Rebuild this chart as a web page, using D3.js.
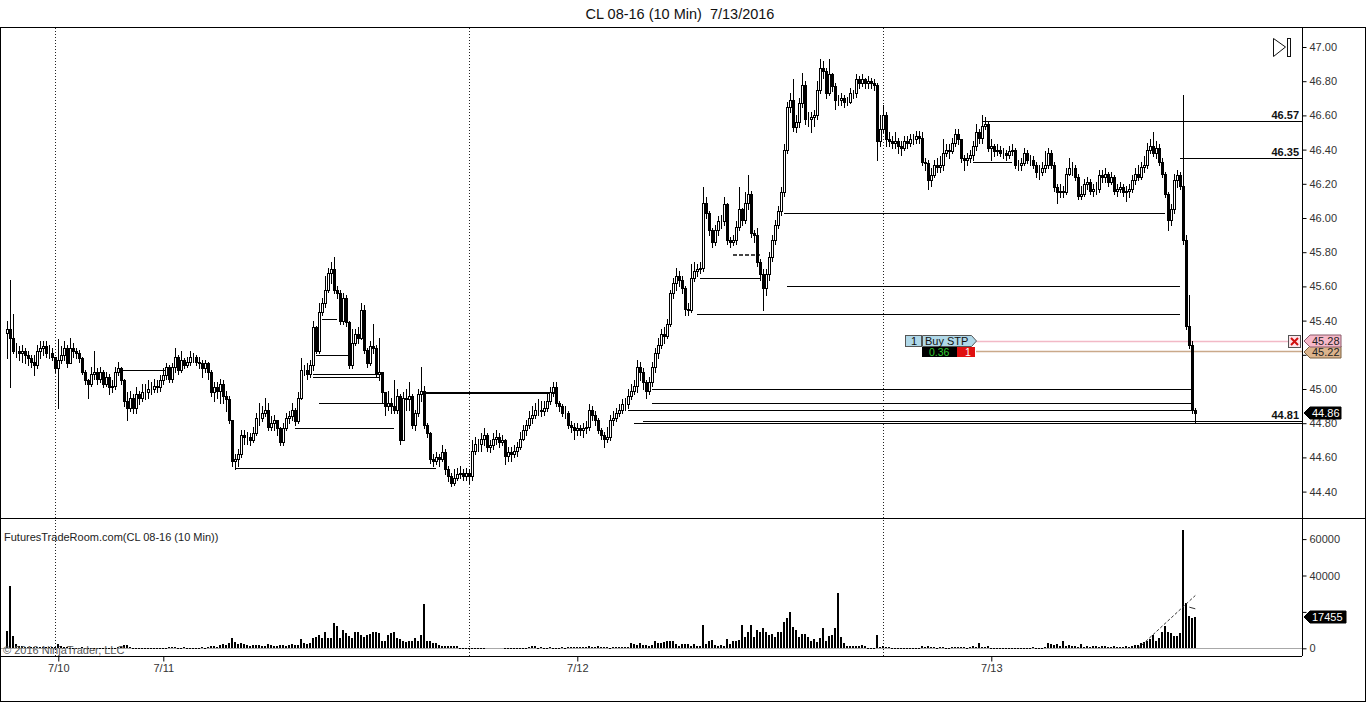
<!DOCTYPE html>
<html><head><meta charset="utf-8">
<script src="https://cdn.jsdelivr.net/npm/d3@7"></script>
<style>
html,body{margin:0;padding:0;background:#fff;}
svg{display:block;font-family:"Liberation Sans",Arial,sans-serif;}
</style></head><body>
<svg id="chart" width="1366" height="702"></svg>
<script>
// ---------------- DATA ----------------
const titleText = "CL 08-16 (10 Min)  7/13/2016";
const firstOpen = 45.33;
const closes = [
45.35,45.30,45.22,45.22,45.21,45.22,45.20,45.18,45.16,45.14,
45.22,45.24,45.25,45.21,45.21,45.19,45.12,45.17,45.20,45.24,
45.15,45.24,45.22,45.21,45.18,45.10,45.05,45.03,45.09,45.10,
45.06,45.10,45.03,45.07,45.01,45.02,45.10,45.12,45.05,44.93,
44.89,44.95,44.89,44.97,44.95,44.98,44.98,45.00,45.00,45.02,
45.01,45.05,45.08,45.13,45.06,45.13,45.19,45.11,45.17,45.14,
45.16,45.19,45.19,45.16,45.15,45.12,45.15,45.10,44.98,45.01,
44.99,45.03,44.96,44.94,44.82,44.58,44.59,44.62,44.73,44.72,
44.72,44.70,44.74,44.83,44.83,44.86,44.88,44.78,44.80,44.82,
44.77,44.69,44.77,44.83,44.84,44.88,44.81,44.95,45.11,45.11,
45.09,45.14,45.36,45.22,45.45,45.50,45.58,45.68,45.70,45.58,
45.56,45.40,45.53,45.39,45.14,45.27,45.32,45.30,45.46,45.23,
45.15,45.25,45.24,45.09,45.10,44.98,44.90,44.92,44.90,44.88,
44.96,44.70,44.95,44.94,44.96,44.79,44.86,44.97,44.99,44.79,
44.74,44.59,44.58,44.60,44.59,44.63,44.53,44.49,44.45,44.48,
44.50,44.51,44.49,44.51,44.49,44.64,44.68,44.68,44.71,44.73,
44.66,44.67,44.71,44.72,44.69,44.70,44.61,44.63,44.62,44.64,
44.66,44.71,44.76,44.79,44.83,44.85,44.88,44.88,44.87,44.89,
44.93,44.98,45.01,44.92,44.90,44.86,44.86,44.79,44.78,44.76,
44.77,44.76,44.77,44.78,44.88,44.85,44.82,44.76,44.73,44.71,
44.72,44.82,44.83,44.86,44.88,44.91,44.91,44.96,44.99,45.02,
45.13,45.10,45.04,44.99,45.04,45.13,45.21,45.26,45.32,45.31,
45.38,45.56,45.62,45.66,45.64,45.59,45.47,45.46,45.65,45.69,
45.70,45.71,46.09,46.03,45.93,45.86,45.93,45.98,45.98,46.08,
45.87,45.86,45.87,45.95,46.05,45.99,46.09,46.14,45.91,45.90,
45.74,45.67,45.59,45.67,45.77,45.87,45.96,46.04,46.15,46.40,
46.65,46.69,46.53,46.56,46.67,46.78,46.58,46.58,46.59,46.60,
46.75,46.88,46.86,46.73,46.84,46.77,46.69,46.69,46.70,46.68,
46.68,46.73,46.73,46.81,46.79,46.81,46.79,46.80,46.79,46.78,
46.45,46.52,46.60,46.46,46.45,46.44,46.45,46.42,46.41,46.45,
46.44,46.46,46.46,46.48,46.47,46.33,46.32,46.22,46.25,46.31,
46.30,46.31,46.38,46.40,46.39,46.44,46.49,46.46,46.35,46.34,
46.35,46.37,46.42,46.50,46.47,46.54,46.55,46.41,46.42,46.39,
46.40,46.38,46.38,46.37,46.39,46.40,46.31,46.31,46.32,46.38,
46.34,46.34,46.31,46.27,46.27,46.29,46.31,46.38,46.31,46.18,
46.15,46.16,46.15,46.26,46.29,46.29,46.24,46.13,46.14,46.20,
46.21,46.16,46.17,46.17,46.25,46.24,46.26,46.21,46.24,46.16,
46.17,46.18,46.15,46.16,46.17,46.22,46.26,46.24,46.30,46.31,
46.40,46.42,46.38,46.41,46.33,46.26,46.14,45.99,46.05,46.22,
46.25,46.19,45.87,45.37,45.26,44.88,44.86];
const highs = [
45.40,45.64,45.44,45.27,45.25,45.26,45.24,45.22,45.20,45.20,
45.26,45.28,45.28,45.28,45.26,45.24,45.19,45.29,45.25,45.28,
45.26,45.30,45.27,45.24,45.23,45.19,45.11,45.06,45.13,45.22,
45.12,45.13,45.11,45.10,45.09,45.05,45.13,45.16,45.13,45.06,
44.98,44.99,44.97,45.01,44.99,45.03,45.03,45.05,45.04,45.06,
45.05,45.08,45.12,45.15,45.14,45.15,45.24,45.20,45.22,45.18,
45.19,45.22,45.21,45.20,45.19,45.17,45.17,45.16,45.11,45.04,
45.04,45.06,45.05,44.99,44.96,44.82,44.62,44.65,44.76,44.76,
44.75,44.74,44.78,44.86,44.92,44.90,44.95,44.92,44.84,44.85,
44.82,44.78,44.80,44.86,44.87,44.92,44.89,44.98,45.18,45.14,
45.15,45.17,45.40,45.37,45.50,45.53,45.66,45.71,45.74,45.77,
45.60,45.58,45.56,45.55,45.40,45.35,45.35,45.36,45.50,45.49,
45.24,45.28,45.38,45.26,45.30,45.09,44.97,44.99,44.95,45.05,
45.00,44.97,44.98,45.00,45.04,44.97,44.88,45.00,45.13,45.02,
44.80,44.75,44.62,44.63,44.62,44.67,44.65,44.55,44.51,44.53,
44.54,44.55,44.53,44.54,44.53,44.70,44.72,44.71,44.74,44.77,
44.74,44.70,44.74,44.76,44.74,44.73,44.71,44.66,44.66,44.67,
44.69,44.75,44.79,44.82,44.87,44.90,44.92,44.94,44.93,44.93,
44.97,45.01,45.04,45.04,44.93,44.91,44.90,44.87,44.81,44.80,
44.80,44.79,44.80,44.81,44.91,44.90,44.87,44.83,44.77,44.75,
44.78,44.85,44.87,44.89,44.91,44.94,44.95,45.00,45.03,45.05,
45.17,45.16,45.12,45.05,45.07,45.16,45.24,45.30,45.35,45.36,
45.41,45.58,45.65,45.71,45.69,45.66,45.60,45.50,45.73,45.74,
45.73,45.74,46.18,46.12,46.04,45.94,45.96,46.01,46.02,46.12,
46.09,45.89,45.90,45.98,46.18,46.06,46.15,46.25,46.16,45.93,
45.94,45.76,45.70,45.70,45.80,45.90,45.99,46.07,46.18,46.43,
46.68,46.73,46.81,46.60,46.70,46.85,46.80,46.62,46.62,46.63,
46.80,46.93,46.92,46.88,46.93,46.85,46.79,46.72,46.73,46.72,
46.71,46.76,46.75,46.84,46.83,46.84,46.82,46.83,46.82,46.81,
46.79,46.60,46.66,46.62,46.50,46.48,46.50,46.47,46.45,46.48,
46.48,46.49,46.49,46.51,46.51,46.50,46.35,46.34,46.29,46.34,
46.35,46.36,46.46,46.43,46.43,46.47,46.52,46.52,46.46,46.37,
46.38,46.40,46.45,46.55,46.52,46.60,46.59,46.57,46.46,46.43,
46.43,46.42,46.41,46.40,46.42,46.43,46.41,46.34,46.35,46.41,
46.40,46.37,46.36,46.33,46.31,46.33,46.39,46.41,46.40,46.33,
46.20,46.20,46.19,46.29,46.35,46.33,46.31,46.26,46.19,46.23,
46.24,46.23,46.20,46.21,46.28,46.28,46.29,46.27,46.27,46.25,
46.20,46.21,46.20,46.19,46.20,46.25,46.29,46.31,46.33,46.36,
46.44,46.46,46.50,46.45,46.43,46.35,46.27,46.15,46.08,46.26,
46.28,46.27,46.72,45.90,45.55,45.28,44.89];
const lows = [
45.18,45.01,45.21,45.19,45.17,45.16,45.15,45.14,45.13,45.08,
45.12,45.18,45.20,45.19,45.18,45.17,45.10,44.89,45.15,45.17,
45.13,45.15,45.19,45.18,45.16,45.09,45.03,44.95,45.02,45.06,
45.03,45.04,45.01,45.02,44.97,44.98,45.00,45.08,45.03,44.90,
44.82,44.87,44.86,44.86,44.91,44.93,44.94,44.95,44.97,44.98,
44.98,44.99,45.03,45.06,45.04,45.04,45.10,45.09,45.10,45.12,
45.13,45.14,45.16,45.14,45.12,45.07,45.10,45.06,44.96,44.93,
44.95,44.92,44.92,44.87,44.80,44.55,44.53,44.55,44.60,44.68,
44.68,44.67,44.69,44.73,44.79,44.81,44.84,44.76,44.76,44.76,
44.73,44.67,44.67,44.76,44.80,44.82,44.79,44.80,44.94,45.08,
45.06,45.07,45.11,45.21,45.21,45.43,45.48,45.57,45.62,45.56,
45.53,45.38,45.38,45.37,45.12,45.12,45.26,45.27,45.29,45.21,
45.13,45.14,45.21,45.07,45.05,44.92,44.85,44.88,44.86,44.86,
44.86,44.68,44.70,44.88,44.88,44.77,44.76,44.84,44.93,44.77,
44.72,44.57,44.55,44.56,44.55,44.58,44.50,44.46,44.43,44.44,
44.47,44.48,44.47,44.47,44.45,44.47,44.62,44.64,44.64,44.67,
44.64,44.63,44.65,44.68,44.66,44.67,44.56,44.58,44.58,44.60,
44.61,44.65,44.70,44.73,44.77,44.80,44.83,44.85,44.84,44.85,
44.87,44.91,44.96,44.90,44.87,44.84,44.83,44.77,44.75,44.71,
44.73,44.73,44.72,44.74,44.76,44.82,44.79,44.74,44.71,44.66,
44.69,44.70,44.79,44.81,44.84,44.86,44.88,44.89,44.94,44.97,
44.98,45.05,45.00,44.95,44.97,45.02,45.10,45.18,45.24,45.27,
45.30,45.37,45.53,45.58,45.60,45.56,45.43,45.43,45.45,45.63,
45.66,45.68,45.69,46.00,45.90,45.83,45.84,45.90,45.94,45.96,
45.85,45.83,45.84,45.85,45.93,45.96,45.97,46.05,45.89,45.86,
45.72,45.64,45.46,45.55,45.64,45.75,45.85,45.94,46.02,46.13,
46.38,46.62,46.51,46.50,46.53,46.65,46.55,46.54,46.50,46.54,
46.58,46.73,46.82,46.70,46.72,46.74,46.64,46.66,46.66,46.65,
46.66,46.67,46.70,46.71,46.76,46.77,46.76,46.76,46.76,46.75,
46.34,46.42,46.50,46.42,46.42,46.41,46.41,46.38,46.37,46.40,
46.41,46.42,46.43,46.44,46.44,46.31,46.28,46.17,46.19,46.24,
46.27,46.27,46.28,46.36,46.35,46.38,46.42,46.43,46.33,46.28,
46.31,46.33,46.34,46.40,46.44,46.44,46.52,46.39,46.34,46.36,
46.37,46.36,46.35,46.34,46.35,46.37,46.29,46.28,46.28,46.31,
46.32,46.31,46.29,46.24,46.23,46.25,46.27,46.29,46.29,46.16,
46.09,46.12,46.12,46.14,46.25,46.25,46.22,46.11,46.11,46.13,
46.17,46.14,46.13,46.14,46.15,46.21,46.21,46.19,46.20,46.14,
46.13,46.15,46.13,46.10,46.12,46.15,46.20,46.22,46.23,46.27,
46.29,46.38,46.36,46.35,46.31,46.24,46.12,45.93,45.96,46.03,
46.18,46.17,45.85,45.35,45.24,44.86,44.80];
const volumes = [
9500,34200,6700,2200,1200,1000,900,800,800,700,
700,800,600,600,700,600,900,2200,1200,800,
500,400,400,300,300,500,400,300,300,300,
300,300,300,300,400,300,300,600,1500,2000,
1800,700,400,300,300,300,300,200,200,100,
100,200,300,400,500,600,500,400,400,500,
400,300,300,400,400,500,400,600,1000,1500,
900,1800,2200,2000,3000,5800,3200,2400,2800,2200,
1800,1500,2000,2000,1800,1400,1500,2400,1600,1400,
1500,1700,2000,1500,1600,2200,2000,1800,5000,2800,
2200,3000,5800,6400,7300,5500,8800,5800,5500,13900,
12100,5800,10100,8300,6700,5500,9200,9200,7300,6400,
7300,7600,8800,8800,8300,4200,4200,7300,8300,9200,
5800,5000,3800,3500,4200,4200,5500,4200,7300,24300,
4200,3800,3000,3000,2000,1500,1500,1200,1000,1000,
1000,400,400,300,400,300,300,400,300,300,
0,0,0,0,0,0,300,300,300,300,
300,300,300,300,700,1000,1500,400,500,400,
400,500,400,400,400,500,400,600,500,500,
600,500,800,900,1000,800,900,1200,600,500,
500,400,600,700,500,500,600,900,3000,2500,
1600,3000,1800,1800,1500,2000,3800,2700,3000,3300,
4200,3800,4200,2500,1500,2500,2500,2500,1200,2500,
1500,1500,12800,2500,3800,4600,1800,1500,1800,1200,
5100,2500,3800,4200,4600,12800,6400,9200,12800,6400,
10100,9200,11000,9200,7300,8000,6000,9200,8800,14600,
16500,20100,11700,10100,6000,7600,7600,6400,3800,5100,
3500,5800,11000,4200,6600,7300,11000,30500,6000,3000,
1500,1000,1000,1000,1000,2000,1500,300,300,300,
7300,600,1000,800,500,400,300,300,300,300,
300,300,300,300,300,1000,800,1000,600,500,
400,500,600,400,400,500,600,500,700,500,
400,600,1500,800,2700,700,500,1500,400,300,
300,400,300,300,300,400,300,300,400,300,
300,300,500,400,300,400,500,3000,2500,2000,
2500,1500,3800,1500,2000,1000,1000,800,2200,800,
1000,900,1000,1000,900,1000,1000,900,800,1000,
900,800,900,1000,900,1000,1800,2000,2700,3300,
4200,5100,7300,4200,5500,9200,12200,9200,8300,7000,
6800,8600,65000,24700,17600,16500,17455];

const priceTicks = [44.40,44.60,44.80,45.00,45.20,45.40,45.60,45.80,46.00,46.20,46.40,46.60,46.80,47.00];
const volumeTicks = [0,20000,40000,60000];
const dateTickBars = [17,52,190,328];
const dateTickLabels = ["7/10","7/11","7/12","7/13"];
const sessionStartBars = [17,155,293];

// drawn horizontal levels: price, first bar, last bar (null = to the price axis)
const levelPrices = [45.11,44.54,44.77,44.92,45.09,45.07,45.20,45.41,44.98,45.00,44.92,44.88,44.81,44.80,45.65,45.79,45.60,45.44,46.03,46.57,46.35,46.33];
const levelStart  = [37,76,96,104,102,102,103,105,138,215,215,207,212,209,231,242,260,230,259,325,391,322];
const levelEnd    = [55,143,129,126,124,124,114,110,183,395,395,396,null,null,251,251,391,391,386,null,null,335];
const levelLabelPrices = [46.57,46.35,44.81];

// working order
const orderQty = "1", orderType = "Buy STP", orderPnl = "0.36", orderFill = "1";
const stopPrice = 45.28, targetPrice = 45.22, orderStartBar = 323;

// volume trend line drawn in the lower panel: [bar, volume]
const volTrendBars = [377,396];
const volTrendVals = [0,29000];
const volTickBars = [394,396];
const volTickVals = [22600,21700];

const panelLabel = "FuturesTradeRoom.com(CL 08-16 (10 Min))";
const copyright = "\u00A9 2016 NinjaTrader, LLC";

// ---------------- DRAWING ----------------
const svg = d3.select("#chart");
const W = 1366, H = 702;
const axisX = 1302, mainTop = 27, mainBottom = 518, volBottom = 656;
const N = closes.length;
const opens = closes.map((c,i)=> i===0 ? firstOpen : closes[i-1]);

const x = d3.scaleLinear().domain([0, N-1]).range([7.3, 7.3 + 3*(N-1)]);
const y = d3.scaleLinear().domain([44.40, 47.00]).range([491.6, 47]);
const yv = d3.scaleLinear().domain([0, 60000]).range([648.3, 539.1]);
const px = i => Math.round(x(i));
const py = p => Math.round(y(p));

svg.append("rect").attr("width",W).attr("height",H).attr("fill","#fff");

// title
svg.append("text").attr("x",680).attr("y",19).attr("text-anchor","middle")
  .style("white-space","pre").attr("font-size","14.5px").attr("fill","#111").text(titleText);

// session dotted lines
svg.append("g").selectAll("line").data(sessionStartBars).join("line")
  .attr("x1",d=>px(d-1)+0.5).attr("x2",d=>px(d-1)+0.5)
  .attr("y1",mainTop+1).attr("y2",volBottom)
  .attr("stroke","#222").attr("stroke-dasharray","1,2").attr("stroke-width",1);

// volume zero line
svg.append("line").attr("x1",0).attr("x2",axisX).attr("y1",Math.round(yv(0))+0.5).attr("y2",Math.round(yv(0))+0.5)
  .attr("stroke","#a8a8a8").attr("stroke-width",1);

// level lines
const levels = levelPrices.map((p,i)=>({p, s:levelStart[i], e:levelEnd[i], i}));
const boldLevels = new Set([8]);
const dashedLevels = new Set([15]);
svg.append("g").selectAll("line").data(levels).join("line")
  .attr("x1",d=>px(d.s)).attr("x2",d=> d.e===null ? axisX : px(d.e))
  .attr("y1",d=>py(d.p)+0.5).attr("y2",d=>py(d.p)+0.5)
  .attr("stroke",d=> dashedLevels.has(d.i) ? "#444" : "#000")
  .attr("stroke-width",d=> (boldLevels.has(d.i) || dashedLevels.has(d.i)) ? 2 : 1)
  .attr("stroke-dasharray",d=> dashedLevels.has(d.i) ? "4,2" : null)
  .attr("shape-rendering","crispEdges");

// order lines
const oy1 = py(stopPrice)+0.5, oy2 = py(targetPrice)+0.5;
svg.append("line").attr("x1",px(orderStartBar)).attr("x2",1288).attr("y1",oy1).attr("y2",oy1)
  .attr("stroke","#f2b9c6").attr("stroke-width",1.5);
svg.append("line").attr("x1",px(orderStartBar)).attr("x2",axisX).attr("y1",oy2).attr("y2",oy2)
  .attr("stroke","#caa98a").attr("stroke-width",1.5);

// candles
const candles = svg.append("g");
const bars = d3.range(N).map(i=>({i,o:opens[i],h:highs[i],l:lows[i],c:closes[i]}));
candles.selectAll("line.wick").data(bars).join("line").attr("class","wick")
  .attr("x1",d=>px(d.i)+0.5).attr("x2",d=>px(d.i)+0.5)
  .attr("y1",d=>py(Math.max(d.h,d.o,d.c))).attr("y2",d=>py(Math.min(d.l,d.o,d.c))+1)
  .attr("stroke","#000").attr("stroke-width",1);
candles.selectAll("rect.body").data(bars).join("rect").attr("class","body")
  .attr("x",d=>px(d.i)-0.5).attr("width",2)
  .attr("y",d=>py(Math.max(d.o,d.c))+0.5)
  .attr("height",d=>Math.max(0, py(Math.min(d.o,d.c)) - py(Math.max(d.o,d.c))))
  .attr("fill",d=> d.c < d.o ? "#000" : "#fff")
  .attr("stroke","#000").attr("stroke-width",1);

// volume bars
svg.append("g").selectAll("rect").data(volumes.map((v,i)=>({v,i}))).join("rect")
  .attr("x",d=>px(d.i)-1).attr("width",2)
  .attr("y",d=>Math.round(yv(d.v)))
  .attr("height",d=>Math.max(d.v>0?1:0, Math.round(yv(0)) - Math.round(yv(d.v))))
  .attr("fill","#000");

// volume trend dashed lines
svg.append("line").attr("x1",x(volTrendBars[0])).attr("x2",x(volTrendBars[1]))
  .attr("y1",yv(volTrendVals[0])).attr("y2",yv(volTrendVals[1]))
  .attr("stroke","#333").attr("stroke-dasharray","3,2").attr("stroke-width",1);
svg.append("line").attr("x1",x(volTickBars[0])).attr("x2",x(volTickBars[1]))
  .attr("y1",yv(volTickVals[0])).attr("y2",yv(volTickVals[1]))
  .attr("stroke","#333").attr("stroke-width",1);

// frame
const fr = svg.append("g").attr("stroke","#000").attr("stroke-width",1).attr("shape-rendering","crispEdges");
fr.append("line").attr("x1",0).attr("x2",W).attr("y1",mainTop+0.5).attr("y2",mainTop+0.5);
fr.append("line").attr("x1",0).attr("x2",W).attr("y1",mainBottom+0.5).attr("y2",mainBottom+0.5);
fr.append("line").attr("x1",0).attr("x2",axisX).attr("y1",volBottom+0.5).attr("y2",volBottom+0.5);
fr.append("line").attr("x1",0).attr("x2",W).attr("y1",H-0.5).attr("y2",H-0.5);
fr.append("line").attr("x1",0.5).attr("x2",0.5).attr("y1",mainTop).attr("y2",H);
fr.append("line").attr("x1",W-0.5).attr("x2",W-0.5).attr("y1",mainTop).attr("y2",H);
fr.append("line").attr("x1",axisX+0.5).attr("x2",axisX+0.5).attr("y1",mainTop).attr("y2",volBottom);

// ticks whose labels sit behind a price/volume marker in the reference
const hiddenPriceLabels = new Set(["45.20"]);
const hiddenVolLabels = new Set(["20000"]);

// price axis
const pAxis = svg.append("g").attr("transform",`translate(${axisX+0.5},0)`)
  .call(d3.axisRight(y).tickValues(priceTicks).tickSize(4).tickPadding(3).tickFormat(d3.format(".2f")));
pAxis.select(".domain").remove();
pAxis.selectAll("text").attr("font-size","11px").attr("fill","#333").attr("font-family","Liberation Sans, Arial, sans-serif")
  .filter(function(){ return hiddenPriceLabels.has(this.textContent); }).remove();
pAxis.selectAll("line").attr("stroke","#000");

// volume axis
const vAxis = svg.append("g").attr("transform",`translate(${axisX+0.5},0)`)
  .call(d3.axisRight(yv).tickValues(volumeTicks).tickSize(4).tickPadding(3).tickFormat(d3.format("d")));
vAxis.select(".domain").remove();
vAxis.selectAll("text").attr("font-size","11px").attr("fill","#333").attr("font-family","Liberation Sans, Arial, sans-serif")
  .filter(function(){ return hiddenVolLabels.has(this.textContent); }).remove();

// date axis
const dAxis = svg.append("g").attr("transform",`translate(0,${volBottom+0.5})`)
  .call(d3.axisBottom(x).tickValues(dateTickBars).tickSize(5).tickPadding(3).tickFormat((d,i)=>dateTickLabels[i]));
dAxis.select(".domain").remove();
dAxis.selectAll("text").attr("font-size","11px").attr("fill","#333").attr("font-family","Liberation Sans, Arial, sans-serif");

// level price labels
svg.append("g").selectAll("text").data(levelLabelPrices).join("text")
  .attr("x",1299).attr("y",d=>py(d)-2).attr("text-anchor","end")
  .attr("font-size","11px").attr("font-weight","bold").attr("fill","#111")
  .text(d=>d.toFixed(2));

// right-side markers
function marker(yc, w, fill, stroke, txt, txtFill){
  const g = svg.append("g");
  const x0 = axisX+2, h = 6;
  g.append("path").attr("d",`M${x0},${yc} L${x0+6},${yc-h} L${x0+w},${yc-h} L${x0+w},${yc+h} L${x0+6},${yc+h} Z`)
    .attr("fill",fill).attr("stroke",stroke).attr("stroke-width",1);
  g.append("text").attr("x",x0+8).attr("y",yc+4).attr("font-size","11px").attr("fill",txtFill).text(txt);
}
marker(py(targetPrice)+1, 37, "#dcb48c", "#7a6040", targetPrice.toFixed(2), "#222");
marker(py(stopPrice), 37, "#f6b8c8", "#8a5a6a", stopPrice.toFixed(2), "#222");
marker(py(closes[N-1]), 37, "#000", "#000", closes[N-1].toFixed(2), "#fff");
marker(Math.round(yv(volumes[N-1])), 42, "#000", "#000", String(volumes[N-1]), "#fff");

// cancel X box
const xb = svg.append("g").attr("transform",`translate(1288,${py(stopPrice)-6})`);
xb.append("rect").attr("x",0.5).attr("y",0.5).attr("width",12).attr("height",12).attr("fill","#fde4ea").attr("stroke","#555");
xb.append("path").attr("d","M3,3 L10,10 M10,3 L3,10").attr("stroke","#d01010").attr("stroke-width",2);

// order label
const ol = svg.append("g").attr("transform",`translate(905,${py(stopPrice)-6})`);
ol.append("rect").attr("x",0.5).attr("y",0.5).attr("width",16).attr("height",11).attr("fill","#b0d8e8").attr("stroke","#555");
ol.append("text").attr("x",6).attr("y",10).attr("font-size","11px").attr("fill","#111").text(orderQty);
ol.append("path").attr("d","M17.5,0.5 L66.5,0.5 L71.5,6 L66.5,11.5 L17.5,11.5 Z").attr("fill","#b0d8e8").attr("stroke","#555");
ol.append("text").attr("x",20).attr("y",10).attr("font-size","11px").attr("fill","#111").text(orderType);
ol.append("rect").attr("x",17).attr("y",12).attr("width",35).attr("height",10).attr("fill","#000");
ol.append("text").attr("x",24).attr("y",21).attr("font-size","10.5px").attr("fill","#3c3").text(orderPnl);
ol.append("rect").attr("x",52).attr("y",12).attr("width",18).attr("height",10).attr("fill","#e01010");
ol.append("text").attr("x",60).attr("y",21).attr("font-size","10.5px").attr("fill","#fff").text(orderFill);

// play/end icon
const ic = svg.append("g").attr("fill","none").attr("stroke","#111").attr("stroke-width",1);
ic.append("path").attr("d","M1273.5,38.5 L1285.5,47 L1273.5,56.5 Z");
ic.append("rect").attr("x",1287.5).attr("y",38.5).attr("width",3).attr("height",18);

// panel texts
svg.append("text").attr("x",4).attr("y",541).attr("font-size","11px").attr("fill","#222").text(panelLabel);
svg.append("text").attr("x",3).attr("y",654).attr("font-size","11px").attr("fill","#555").text(copyright);
</script>
</body></html>
